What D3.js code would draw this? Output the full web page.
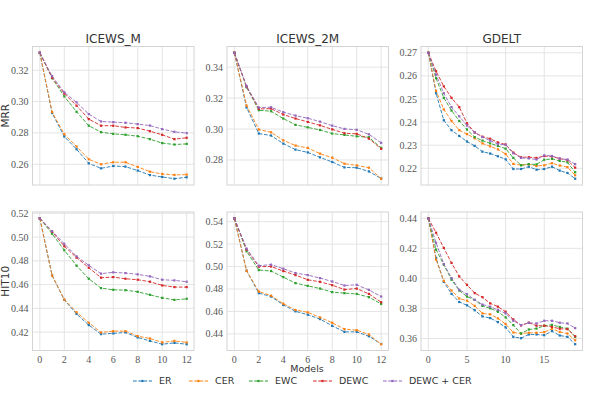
<!DOCTYPE html>
<html>
<head>
<meta charset="utf-8">
<script src="https://cdn.jsdelivr.net/npm/d3@7"></script>
<style>
  body { margin: 0; background: #fff; }
  svg { display: block; }
</style>
</head>
<body>
<div id="chart"></div>
<script>
// series names + colours (tab10)
const models = ["ER", "CER", "EWC", "DEWC", "DEWC + CER"];
const colors = ["#1f77b4", "#ff7f0e", "#2ca02c", "#d62728", "#9467bd"];
const datasets = ["ICEWS_M", "ICEWS_2M", "GDELT"];
const metrics = ["MRR", "HIT10"];

// ICEWS_M, MRR (13 steps)
const icewsM_mrr = [
  [0.3311, 0.2927, 0.2777, 0.2696, 0.2606, 0.2574, 0.2589, 0.2585, 0.2560, 0.2531, 0.2519, 0.2508, 0.2517],
  [0.3311, 0.2933, 0.2792, 0.2713, 0.2632, 0.2600, 0.2613, 0.2613, 0.2583, 0.2553, 0.2538, 0.2532, 0.2534],
  [0.3311, 0.3149, 0.3033, 0.2935, 0.2846, 0.2805, 0.2794, 0.2788, 0.2779, 0.2760, 0.2735, 0.2726, 0.2730],
  [0.3311, 0.3153, 0.3051, 0.2974, 0.2888, 0.2846, 0.2846, 0.2835, 0.2831, 0.2811, 0.2788, 0.2760, 0.2769],
  [0.3311, 0.3162, 0.3059, 0.2995, 0.2920, 0.2873, 0.2869, 0.2865, 0.2856, 0.2847, 0.2824, 0.2807, 0.2799]
];
// ICEWS_2M, MRR
const icews2M_mrr = [
  [0.3493, 0.3139, 0.2971, 0.2958, 0.2906, 0.2867, 0.2849, 0.2817, 0.2787, 0.2752, 0.2750, 0.2726, 0.2680],
  [0.3493, 0.3152, 0.2997, 0.2979, 0.2927, 0.2893, 0.2878, 0.2841, 0.2815, 0.2776, 0.2765, 0.2750, 0.2679],
  [0.3493, 0.3270, 0.3122, 0.3115, 0.3068, 0.3027, 0.3011, 0.2994, 0.2971, 0.2962, 0.2953, 0.2947, 0.2878],
  [0.3493, 0.3275, 0.3130, 0.3132, 0.3094, 0.3068, 0.3046, 0.3024, 0.2998, 0.2973, 0.2969, 0.2938, 0.2872],
  [0.3493, 0.3277, 0.3139, 0.3141, 0.3109, 0.3087, 0.3070, 0.3048, 0.3022, 0.3001, 0.2995, 0.2966, 0.2911]
];
// GDELT, MRR (20 steps)
const gdelt_mrr = [
  [0.2700, 0.2525, 0.2408, 0.2365, 0.2340, 0.2316, 0.2297, 0.2272, 0.2264, 0.2252, 0.2239, 0.2197, 0.2197, 0.2207, 0.2194, 0.2197, 0.2207, 0.2190, 0.2180, 0.2155],
  [0.2700, 0.2535, 0.2455, 0.2405, 0.2365, 0.2348, 0.2330, 0.2308, 0.2295, 0.2282, 0.2262, 0.2219, 0.2214, 0.2217, 0.2210, 0.2213, 0.2222, 0.2212, 0.2205, 0.2170],
  [0.2700, 0.2590, 0.2505, 0.2450, 0.2405, 0.2368, 0.2335, 0.2320, 0.2308, 0.2297, 0.2285, 0.2245, 0.2213, 0.2218, 0.2217, 0.2237, 0.2241, 0.2232, 0.2226, 0.2183],
  [0.2700, 0.2620, 0.2555, 0.2505, 0.2465, 0.2395, 0.2355, 0.2337, 0.2328, 0.2312, 0.2303, 0.2268, 0.2248, 0.2248, 0.2245, 0.2253, 0.2251, 0.2242, 0.2235, 0.2203],
  [0.2700, 0.2605, 0.2525, 0.2465, 0.2425, 0.2385, 0.2355, 0.2335, 0.2320, 0.2305, 0.2302, 0.2265, 0.2245, 0.2243, 0.2238, 0.2256, 0.2253, 0.2242, 0.2238, 0.2218]
];
// ICEWS_M, HIT10
const icewsM_hit = [
  [0.5158, 0.4677, 0.4471, 0.4353, 0.4259, 0.4183, 0.4189, 0.4197, 0.4155, 0.4126, 0.4098, 0.4109, 0.4098],
  [0.5158, 0.4677, 0.4474, 0.4367, 0.4279, 0.4197, 0.4208, 0.4208, 0.4166, 0.4146, 0.4113, 0.4126, 0.4113],
  [0.5158, 0.5028, 0.4889, 0.4759, 0.4649, 0.4570, 0.4556, 0.4553, 0.4539, 0.4514, 0.4488, 0.4471, 0.4480],
  [0.5158, 0.5045, 0.4923, 0.4827, 0.4742, 0.4658, 0.4663, 0.4649, 0.4641, 0.4624, 0.4593, 0.4579, 0.4579],
  [0.5158, 0.5050, 0.4943, 0.4838, 0.4762, 0.4692, 0.4703, 0.4697, 0.4686, 0.4669, 0.4641, 0.4635, 0.4624]
];
// ICEWS_2M, HIT10
const icews2M_hit = [
  [0.5430, 0.4963, 0.4763, 0.4733, 0.4658, 0.4601, 0.4571, 0.4532, 0.4472, 0.4418, 0.4418, 0.4379, 0.4310],
  [0.5430, 0.4963, 0.4777, 0.4741, 0.4669, 0.4613, 0.4592, 0.4547, 0.4499, 0.4442, 0.4433, 0.4395, 0.4308],
  [0.5430, 0.5136, 0.4969, 0.4960, 0.4906, 0.4852, 0.4828, 0.4804, 0.4772, 0.4763, 0.4756, 0.4727, 0.4667],
  [0.5430, 0.5151, 0.4999, 0.5001, 0.4960, 0.4924, 0.4882, 0.4864, 0.4834, 0.4795, 0.4804, 0.4756, 0.4682],
  [0.5430, 0.5160, 0.5008, 0.5017, 0.4981, 0.4942, 0.4924, 0.4897, 0.4867, 0.4831, 0.4837, 0.4792, 0.4733]
];
// GDELT, HIT10
const gdelt_hit = [
  [0.4400, 0.4136, 0.3977, 0.3897, 0.3843, 0.3821, 0.3788, 0.3747, 0.3736, 0.3709, 0.3674, 0.3611, 0.3602, 0.3627, 0.3627, 0.3622, 0.3649, 0.3620, 0.3611, 0.3562],
  [0.4400, 0.4125, 0.3984, 0.3919, 0.3866, 0.3852, 0.3817, 0.3767, 0.3761, 0.3734, 0.3696, 0.3640, 0.3633, 0.3638, 0.3638, 0.3642, 0.3665, 0.3644, 0.3633, 0.3588],
  [0.4400, 0.4192, 0.4091, 0.3991, 0.3919, 0.3879, 0.3857, 0.3817, 0.3801, 0.3778, 0.3741, 0.3689, 0.3633, 0.3660, 0.3666, 0.3685, 0.3691, 0.3677, 0.3666, 0.3611],
  [0.4400, 0.4304, 0.4203, 0.4103, 0.4013, 0.3957, 0.3902, 0.3875, 0.3834, 0.3812, 0.3778, 0.3727, 0.3687, 0.3705, 0.3685, 0.3685, 0.3677, 0.3665, 0.3662, 0.3615],
  [0.4400, 0.4237, 0.4096, 0.4002, 0.3924, 0.3895, 0.3857, 0.3826, 0.3812, 0.3790, 0.3767, 0.3718, 0.3689, 0.3705, 0.3700, 0.3718, 0.3718, 0.3705, 0.3700, 0.3669]
];

// tick labels
const yTicks = [
  [[0.26, 0.28, 0.30, 0.32], [0.28, 0.30, 0.32, 0.34], [0.22, 0.23, 0.24, 0.25, 0.26, 0.27]],
  [[0.42, 0.44, 0.46, 0.48, 0.50, 0.52], [0.44, 0.46, 0.48, 0.50, 0.52, 0.54], [0.36, 0.38, 0.40, 0.42, 0.44]]
];
const xTicksIcews = [0, 2, 4, 6, 8, 10, 12];
const xTicksGdelt = [0, 5, 10, 15];

const panels = [
  [icewsM_mrr, icews2M_mrr, gdelt_mrr],
  [icewsM_hit, icews2M_hit, gdelt_hit]
];

let width = 598, height = 394;
let colLeft = [32.5, 227, 421], panelW = 161.5;
let rowTop = [46.5, 212], panelH = 138.5;

let svg = d3
  .select("#chart")
  .append("svg")
  .attr("width", width)
  .attr("height", height);

let sans = "DejaVu Sans, sans-serif";
let serif = "Liberation Serif, serif";

panels.forEach(function(row, r) {
  row.forEach(function(series, c) {
    let n = series[0].length;
    let xs = c === 2 ? xTicksGdelt : xTicksIcews;

    // matplotlib style 5% padding
    let all = d3.merge(series);
    let lo = d3.min(all), hi = d3.max(all), pad = (hi - lo) * 0.05;
    let xpad = (n - 1) * 0.05;

    let x = d3.scaleLinear().domain([-xpad, n - 1 + xpad]).range([0, panelW]);
    let y = d3.scaleLinear().domain([lo - pad, hi + pad]).range([panelH, 0]);

    let g = svg
      .append("g")
      .attr("transform", "translate(" + colLeft[c] + "," + rowTop[r] + ")");

    // grid
    g.append("g")
      .selectAll("line")
      .data(xs)
      .enter()
      .append("line")
      .attr("x1", d => x(d)).attr("x2", d => x(d))
      .attr("y1", 0).attr("y2", panelH)
      .style("stroke", "#e1e1e1").style("stroke-width", 0.9);

    g.append("g")
      .selectAll("line")
      .data(yTicks[r][c])
      .enter()
      .append("line")
      .attr("x1", 0).attr("x2", panelW)
      .attr("y1", d => y(d)).attr("y2", d => y(d))
      .style("stroke", "#e1e1e1").style("stroke-width", 0.9);

    g.append("rect")
      .attr("width", panelW).attr("height", panelH)
      .style("fill", "none").style("stroke", "#d4d4d4").style("stroke-width", 1);

    // y tick labels
    g.append("g")
      .selectAll("text")
      .data(yTicks[r][c])
      .enter()
      .append("text")
      .attr("x", -4)
      .attr("y", d => y(d))
      .attr("dy", "0.35em")
      .style("text-anchor", "end")
      .style("font-family", serif)
      .style("font-size", "10px")
      .style("fill", "#555")
      .text(d => d.toFixed(2));

    // x tick labels only on bottom row
    if (r === 1) {
      g.append("g")
        .selectAll("text")
        .data(xs)
        .enter()
        .append("text")
        .attr("x", d => x(d))
        .attr("y", panelH + 12)
        .style("text-anchor", "middle")
        .style("font-family", serif)
        .style("font-size", "10px")
        .style("fill", "#555")
        .text(d => d);
    }

    if (r === 0) {
      g.append("text")
        .attr("x", panelW / 2)
        .attr("y", -4)
        .style("text-anchor", "middle")
        .style("font-family", sans)
        .style("font-size", "12px")
        .style("fill", "#333")
        .text(datasets[c]);
    }
    if (c === 0) {
      g.append("text")
        .attr("transform", "translate(-24," + panelH / 2 + ") rotate(-90)")
        .style("text-anchor", "middle")
        .style("font-family", sans)
        .style("font-size", "10.5px")
        .style("fill", "#333")
        .text(metrics[r]);
    }

    let line = d3.line()
      .x((d, i) => x(i))
      .y(d => y(d));

    series.forEach(function(vals, k) {
      g.append("path")
        .datum(vals)
        .attr("d", line)
        .style("fill", "none")
        .style("stroke", colors[k])
        .style("stroke-width", 1)
        .style("stroke-dasharray", "3.7,1.6")
        .style("opacity", 0.9);

      g.append("g")
        .selectAll("path")
        .data(vals)
        .enter()
        .append("path")
        .attr("d", d3.symbol().type(d3.symbolSquare).size(5))
        .attr("transform", (d, i) => "translate(" + x(i) + "," + y(d) + ")")
        .style("fill", colors[k]);
    });
  });
});

// shared x label
svg.append("text")
  .attr("x", 307)
  .attr("y", 372)
  .style("text-anchor", "middle")
  .style("font-family", sans)
  .style("font-size", "9.5px")
  .style("fill", "#333")
  .text("Models");

// legend
let legendX = [133, 189, 249, 313, 383];
let leg = svg
  .selectAll(".legend")
  .data(models)
  .enter()
  .append("g")
  .attr("class", "legend")
  .attr("transform", (d, i) => "translate(" + legendX[i] + ",381)");

leg.append("line")
  .attr("x1", 0).attr("x2", 19)
  .style("stroke", (d, i) => colors[i])
  .style("stroke-width", 1)
  .style("stroke-dasharray", "3.7,1.6");

leg.append("path")
  .attr("d", d3.symbol().type(d3.symbolSquare).size(5))
  .attr("transform", "translate(9.5,0)")
  .style("fill", (d, i) => colors[i]);

leg.append("text")
  .attr("x", 26)
  .attr("dy", "0.35em")
  .style("font-family", sans)
  .style("font-size", "9.5px")
  .style("fill", "#333")
  .text(d => d);
</script>
</body>
</html>
